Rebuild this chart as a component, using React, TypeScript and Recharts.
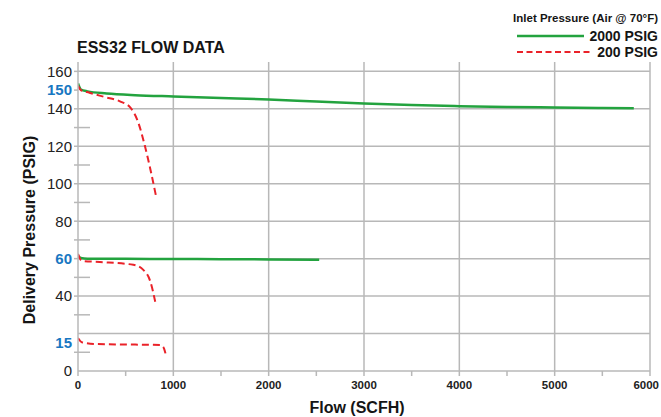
import React from "react";
import { LineChart, Line, XAxis, YAxis, CartesianGrid } from "recharts";

// flow (SCFH) / delivery pressure (PSIG)
const hi150Flow = [0, 30, 100, 300, 600, 1000, 1500, 2000, 2500, 3000, 3500, 4000, 4500, 5000, 5500, 5830];
const hi150Psig = [153.5, 150.3, 149.3, 148.2, 147.3, 146.6, 145.8, 145, 143.9, 142.9, 142, 141.4, 141, 140.7, 140.4, 140.3];

const lo150Flow = [0, 30, 120, 280, 440, 550, 630, 700, 760, 820];
const lo150Psig = [152.5, 150, 148.6, 146.3, 144, 140.6, 133, 120.5, 107.5, 93];

const hi60Flow = [0, 30, 100, 500, 1000, 1500, 2000, 2530];
const hi60Psig = [61.5, 60.3, 60, 59.9, 59.8, 59.7, 59.6, 59.4];

const lo60Flow = [0, 40, 230, 580, 685, 760, 810];
const lo60Psig = [62.5, 58.8, 58.2, 56.7, 54, 47.6, 37];

const lo15Flow = [0, 40, 200, 600, 860, 895, 926];
const lo15Psig = [17.6, 15.3, 14.4, 14.1, 13.9, 12.8, 7.5];

const yMajor = [0, 15, 40, 60, 80, 100, 120, 140, 150, 160];
const yMinor = [10, 30, 50, 70, 90, 110, 130];
const yBlue = [15, 60, 150];
const yGrid = [20, 40, 60, 80, 100, 120, 140, 160];

const xMajor = [0, 1000, 2000, 3000, 4000, 5000, 6000];
const xMinor = [500, 1500, 2500, 3500, 4500, 5500];

const zip = (f: number[], p: number[]) => f.map((flow, i) => ({ flow, psig: p[i] }));

const GREEN = "#23a33f";
const RED = "#ea2229";
const BLUE = "#1777c2";
const GRID = "#b8b8b8";
const INK = "#151515";
const FONT = "'Liberation Sans', Arial, Helvetica, sans-serif";

const YTick = (props: any) => {
  const { x, y, payload } = props;
  const v = payload.value;
  const ax = x + 6;
  if (yMinor.includes(v)) {
    return <line x1={ax - 4} x2={ax + 12} y1={y} y2={y} stroke={GRID} strokeWidth={1.5} />;
  }
  return (
    <g>
      {v !== 15 && v !== 0 && <line x1={ax - 4} x2={ax} y1={y} y2={y} stroke={GRID} strokeWidth={1.5} />}
      <text
        x={x}
        y={y}
        dy="0.36em"
        textAnchor="end"
        fontSize={15}
        fontFamily={FONT}
        fontWeight={yBlue.includes(v) ? 700 : 400}
        fill={yBlue.includes(v) ? BLUE : "#222"}
      >
        {v}
      </text>
    </g>
  );
};

const XTick = (props: any) => {
  const { x, y, payload } = props;
  if (xMinor.includes(payload.value)) return null;
  // last label sits at the right edge; keep it inside the frame
  const last = payload.value === xMajor[xMajor.length - 1];
  return (
    <text
      x={last ? 659 : x}
      y={y}
      dy="0.85em"
      textAnchor={last ? "end" : "middle"}
      fontSize={11.5}
      fontWeight={700}
      fontFamily={FONT}
      fill="#222"
    >
      {payload.value}
    </text>
  );
};

export default function App() {
  return (
    <div style={{ position: "absolute", left: 0, top: 0, width: 661, height: 417, background: "#fff", overflow: "hidden" }}>
      <LineChart width={661} height={417} margin={{ top: 62, right: 11, bottom: 16, left: 18 }}>
        <CartesianGrid
          horizontalValues={yGrid}
          verticalValues={xMajor.slice(1)}
          stroke={GRID}
          strokeWidth={1.5}
        />
        <XAxis
          dataKey="flow"
          type="number"
          domain={[0, 6000]}
          ticks={[...xMajor, ...xMinor].sort((a, b) => a - b)}
          height={30}
          tickSize={5}
          tickMargin={3}
          stroke={GRID}
          strokeWidth={1.5}
          tickLine={{ stroke: GRID, strokeWidth: 1.5 }}
          tick={<XTick />}
          interval={0}
          allowDataOverflow
        />
        <YAxis
          type="number"
          domain={[0, 165]}
          ticks={[...yMajor, ...yMinor].sort((a, b) => a - b)}
          width={60}
          tickSize={4}
          tickMargin={2}
          tickLine={false}
          stroke={GRID}
          strokeWidth={1.5}
          tick={<YTick />}
          interval={0}
          allowDataOverflow
        />
        <Line data={zip(hi150Flow, hi150Psig)} dataKey="psig" type="monotone" stroke={GREEN} strokeWidth={2.5} dot={false} isAnimationActive={false} />
        <Line data={zip(hi60Flow, hi60Psig)} dataKey="psig" type="monotone" stroke={GREEN} strokeWidth={2.5} dot={false} isAnimationActive={false} />
        <Line data={zip(lo150Flow, lo150Psig)} dataKey="psig" type="monotone" stroke={RED} strokeWidth={2} strokeDasharray="7 4" dot={false} isAnimationActive={false} />
        <Line data={zip(lo60Flow, lo60Psig)} dataKey="psig" type="monotone" stroke={RED} strokeWidth={2} strokeDasharray="7 4" dot={false} isAnimationActive={false} />
        <Line data={zip(lo15Flow, lo15Psig)} dataKey="psig" type="monotone" stroke={RED} strokeWidth={2} strokeDasharray="7 4" dot={false} isAnimationActive={false} />
      </LineChart>

      {/* titles and legend */}
      <svg width={661} height={417} style={{ position: "absolute", left: 0, top: 0, pointerEvents: "none" }} fontFamily={FONT} fontWeight={700} fill={INK}>
        <text x={77} y={53} fontSize={16}>ESS32 FLOW DATA</text>
        <text transform="translate(35,230) rotate(-90)" textAnchor="middle" fontSize={16}>Delivery Pressure (PSIG)</text>
        <text x={357} y={413} textAnchor="middle" fontSize={16}>Flow (SCFH)</text>

        <text x={658} y={22} textAnchor="end" fontSize={11.5}>Inlet Pressure (Air @ 70°F)</text>
        <line x1={517} x2={584} y1={36} y2={36} stroke={GREEN} strokeWidth={2.5} />
        <text x={658} y={41} textAnchor="end" fontSize={14}>2000 PSIG</text>
        <line x1={517} x2={590} y1={52} y2={52} stroke={RED} strokeWidth={2} strokeDasharray="6 3.5" />
        <text x={658} y={57} textAnchor="end" fontSize={14}>200 PSIG</text>
      </svg>
    </div>
  );
}
